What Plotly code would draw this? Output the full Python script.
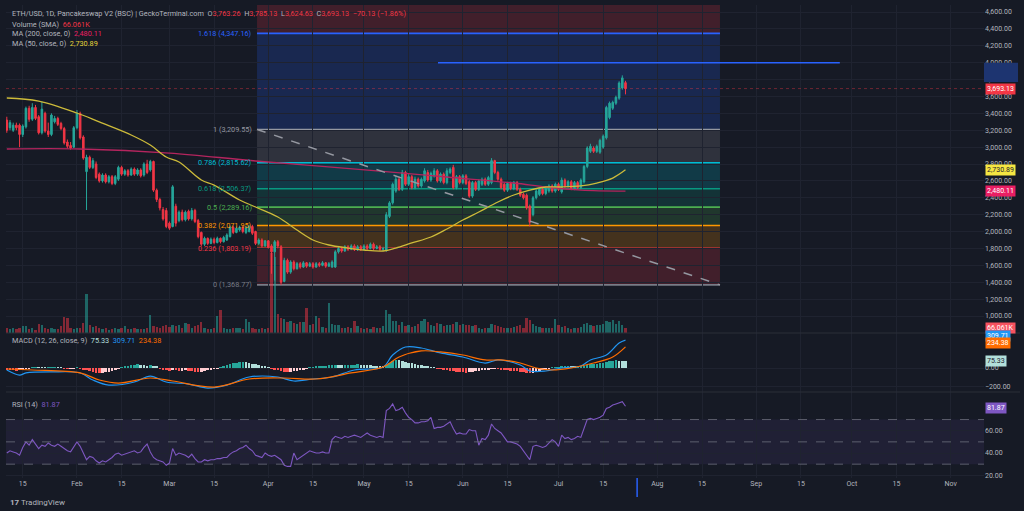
import pandas as pd
import plotly.graph_objects as go

# ---------------- DATA ----------------
opens = [3320, 3230, 3200, 3260, 3260, 3150, 3240, 3460, 3330, 3470,
         3360, 3170, 3400, 3190, 3150, 3300, 3340, 3280, 3220, 3060,
         3020, 3000, 3230, 3400, 3120, 2710, 2880, 2760, 2800, 2680,
         2600, 2670, 2590, 2650, 2570, 2620, 2760, 2680, 2720, 2670,
         2740, 2680, 2730, 2670, 2800, 2730, 2830, 2490, 2380, 2260,
         2250, 2100, 2060, 2300, 2130, 2230, 2140, 2240, 2150, 2250,
         2130, 1990, 1850, 1920, 1860, 1910, 1870, 1920, 1880, 1900,
         1940, 2050, 1990, 2020, 2050, 1990, 2000, 2060, 2000, 1860,
         1900, 1830, 1890, 1830, 1760, 1880, 1820, 1410, 1660, 1520,
         1640, 1560, 1620, 1580, 1630, 1590, 1620, 1580, 1620, 1600,
         1630, 1590, 1580, 1580, 1760, 1800, 1770, 1820, 1790, 1830,
         1790, 1820, 1790, 1830, 1800, 1850, 1800, 1820, 1790, 1780,
         2180, 2340, 2480, 2620, 2500, 2700, 2560, 2650, 2520, 2620,
         2540, 2600, 2700, 2610, 2660, 2720, 2600, 2680, 2580, 2700,
         2760, 2520, 2650, 2580, 2660, 2590, 2420, 2580, 2500, 2560,
         2620, 2560, 2580, 2840, 2700, 2620, 2560, 2490, 2570, 2510,
         2580, 2500, 2440, 2430, 2300, 2200, 2400, 2440, 2500, 2450,
         2480, 2540, 2480, 2560, 2470, 2610, 2540, 2590, 2510, 2580,
         2520, 2590, 2770, 2950, 2990, 2950, 2940, 3000, 3110, 3350,
         3460, 3520, 3580, 3700, 3763.26]
closes = [3200, 3290, 3260, 3230, 3150, 3250, 3460, 3330, 3470, 3340,
          3170, 3450, 3190, 3150, 3380, 3340, 3270, 3220, 3050, 3010,
          2990, 3230, 3400, 3110, 2870, 2880, 2760, 2840, 2640, 2600,
          2670, 2590, 2650, 2570, 2650, 2760, 2680, 2720, 2670, 2740,
          2680, 2730, 2660, 2800, 2700, 2830, 2490, 2380, 2280, 2150,
          2060, 2040, 2530, 2100, 2230, 2140, 2230, 2150, 2250, 2120,
          1940, 1850, 1920, 1860, 1910, 1870, 1920, 1880, 1930, 1960,
          2050, 1990, 2040, 2050, 2000, 2050, 2060, 1980, 1860, 1900,
          1830, 1890, 1810, 1760, 1880, 1830, 1400, 1660, 1520, 1640,
          1560, 1620, 1580, 1630, 1590, 1620, 1580, 1620, 1600, 1630,
          1590, 1620, 1640, 1760, 1800, 1770, 1820, 1790, 1830, 1790,
          1820, 1790, 1830, 1800, 1850, 1800, 1820, 1790, 1800, 2200,
          2340, 2560, 2620, 2500, 2700, 2560, 2650, 2520, 2620, 2540,
          2620, 2720, 2610, 2690, 2720, 2600, 2680, 2580, 2720, 2740,
          2520, 2650, 2580, 2660, 2570, 2420, 2580, 2500, 2600, 2620,
          2560, 2640, 2840, 2700, 2620, 2520, 2490, 2570, 2510, 2580,
          2500, 2430, 2400, 2280, 2110, 2400, 2480, 2500, 2450, 2510,
          2540, 2480, 2560, 2500, 2610, 2540, 2590, 2510, 2580, 2520,
          2610, 2770, 2990, 3010, 2950, 3010, 3080, 3130, 3470, 3520,
          3530, 3590, 3760, 3820, 3693.13]
highs = [3360, 3320, 3290, 3290, 3280, 3270, 3480, 3490, 3520, 3500,
         3380, 3540, 3420, 3290, 3400, 3370, 3360, 3300, 3240, 3090,
         3060, 3250, 3440, 3420, 3140, 2910, 2900, 2870, 2830, 2700,
         2690, 2690, 2670, 2670, 2670, 2780, 2780, 2740, 2740, 2760,
         2760, 2750, 2750, 2820, 2850, 2850, 2840, 2510, 2400, 2290,
         2280, 2120, 2550, 2330, 2250, 2260, 2250, 2260, 2280, 2270,
         2150, 2000, 1940, 1930, 1930, 1930, 1940, 1930, 1950, 1980,
         2070, 2070, 2060, 2070, 2070, 2070, 2080, 2080, 2010, 1920,
         1920, 1900, 1900, 1850, 1900, 1900, 1840, 1690, 1680, 1660,
         1660, 1640, 1640, 1650, 1640, 1640, 1640, 1640, 1640, 1650,
         1640, 1640, 1660, 1780, 1820, 1820, 1840, 1840, 1850, 1850,
         1840, 1840, 1850, 1850, 1870, 1870, 1840, 1840, 1820, 2230,
         2360, 2580, 2660, 2650, 2730, 2720, 2680, 2670, 2650, 2640,
         2640, 2750, 2730, 2710, 2750, 2740, 2700, 2700, 2750, 2760,
         2790, 2670, 2670, 2680, 2680, 2610, 2600, 2600, 2620, 2640,
         2640, 2660, 2870, 2850, 2720, 2640, 2580, 2590, 2590, 2600,
         2600, 2520, 2460, 2450, 2320, 2420, 2500, 2520, 2520, 2530,
         2560, 2560, 2580, 2580, 2640, 2630, 2610, 2610, 2600, 2600,
         2630, 2790, 3010, 3040, 3010, 3030, 3100, 3150, 3490, 3540,
         3550, 3610, 3780, 3850, 3785.13]
lows = [3170, 3200, 3180, 3200, 3000, 3120, 3220, 3300, 3310, 3320,
        3150, 3150, 3170, 3120, 3130, 3280, 3250, 3200, 3030, 2980,
        2970, 2990, 3210, 3090, 2850, 2255, 2740, 2740, 2620, 2580,
        2580, 2570, 2570, 2550, 2550, 2600, 2660, 2660, 2650, 2660,
        2660, 2660, 2640, 2650, 2680, 2710, 2470, 2350, 2250, 2130,
        2040, 2020, 2050, 2060, 2110, 2120, 2120, 2130, 2130, 2100,
        1920, 1830, 1830, 1840, 1850, 1850, 1860, 1860, 1870, 1890,
        1930, 1970, 1980, 2000, 1980, 1970, 1990, 1960, 1840, 1840,
        1810, 1820, 1800, 1500, 1420, 1800, 1369, 1400, 1500, 1500,
        1540, 1550, 1560, 1570, 1570, 1580, 1560, 1570, 1580, 1590,
        1570, 1580, 1570, 1570, 1740, 1750, 1760, 1770, 1780, 1770,
        1770, 1770, 1780, 1780, 1790, 1780, 1790, 1770, 1770, 1760,
        2160, 2320, 2460, 2480, 2480, 2540, 2540, 2500, 2500, 2520,
        2520, 2580, 2590, 2590, 2640, 2580, 2580, 2560, 2560, 2680,
        2500, 2500, 2560, 2560, 2550, 2400, 2400, 2480, 2480, 2540,
        2540, 2540, 2560, 2680, 2600, 2500, 2470, 2470, 2490, 2490,
        2480, 2410, 2380, 2260, 2060, 2180, 2380, 2420, 2430, 2430,
        2460, 2460, 2460, 2480, 2450, 2520, 2520, 2490, 2490, 2500,
        2500, 2570, 2750, 2930, 2930, 2930, 2920, 2980, 3090, 3330,
        3440, 3500, 3560, 3680, 3624.63]
volumes_k = [60, 50, 70, 55, 65, 90, 95, 50, 60, 45,
             120, 100, 70, 55, 60, 50, 55, 90, 210, 200,
             60, 55, 70, 65, 130, 510, 110, 80, 90, 70,
             50, 60, 45, 55, 70, 50, 60, 90, 55, 50,
             60, 50, 55, 50, 60, 235, 90, 80, 70, 95,
             100, 80, 110, 90, 105, 70, 130, 120, 60, 90,
             110, 150, 60, 55, 50, 60, 220, 310, 60, 50,
             55, 70, 65, 60, 55, 180, 150, 60, 55, 50,
             60, 55, 70, 1050, 1000, 250, 200, 180, 140, 160,
             130, 120, 150, 140, 330, 100, 120, 220, 200, 80,
             60, 390, 120, 110, 100, 70, 60, 80, 70, 160,
             90, 60, 50, 70, 55, 80, 60, 70, 90, 300,
             250, 160, 160, 110, 150, 90, 100, 80, 90, 120,
             160, 180, 150, 100, 90, 130, 120, 90, 110, 100,
             120, 140, 100, 120, 110, 100, 90, 100, 60, 50,
             70, 60, 120, 110, 90, 80, 70, 60, 70, 80,
             90, 100, 70, 200, 170, 120, 90, 80, 70, 60,
             70, 60, 180, 100, 80, 90, 60, 50, 60, 70,
             80, 120, 130, 110, 90, 100, 110, 120, 160, 150,
             170, 120, 160, 100, 66.061]
macd_hist = [-15, -20, -25, -28, -25, -20, -10, -5, 5, 8,
             6, 4, 2, 3, 5, 6, 4, 2, -3, -6,
             -5, -2, 2, -8, -15, -25, -35, -45, -55, -60,
             -55, -48, -40, -30, -20, -8, 5, 15, 25, 32,
             38, 40, 36, 30, 25, 28, 22, 12, -5, -15,
             -25, -30, -20, -25, -30, -28, -25, -30, -35, -40,
             -45, -40, -32, -25, -18, -10, -2, 8, 18, 30,
             42, 52, 58, 62, 66, 62, 55, 48, 40, 32,
             25, 15, 8, -5, -15, -25, -35, -42, -45, -40,
             -35, -28, -20, -12, -5, 2, 8, 12, 16, 20,
             25, 28, 30, 32, 30, 28, 30, 32, 35, 38,
             40, 38, 35, 30, 28, 25, 22, 18, 15, 35,
             60, 80, 90, 85, 78, 70, 60, 50, 42, 35,
             28, 20, 14, 8, 2, -5, -10, -18, -25, -30,
             -35, -40, -45, -48, -50, -45, -40, -35, -30, -25,
             -20, -12, -5, -2, -8, -15, -20, -25, -30, -35,
             -38, -42, -45, -50, -58, -52, -40, -30, -20, -12,
             -5, 2, 6, 10, 12, 14, 15, 14, 12, 12,
             15, 25, 35, 42, 45, 48, 52, 60, 70, 78,
             82, 85, 82, 78, 75.33]
rsi = [40, 42, 41, 40, 38, 45, 50, 47, 52, 48,
       44, 47, 46, 49, 47, 46, 48, 46, 44, 42,
       41, 46, 50, 46, 40, 34, 37, 36, 33, 31,
       33, 32, 34, 36, 39, 40, 38, 39, 40, 41,
       42, 40, 41, 45, 48, 41, 36, 34, 33, 32,
       29, 31, 44, 38, 40, 39, 38, 36, 39, 35,
       32, 32, 34, 33, 34, 34, 35, 35, 36, 36,
       39, 41, 42, 44, 45, 47, 44, 42, 38, 37,
       36, 40, 38, 37, 38, 36, 34, 29, 28, 28,
       40, 34, 36, 38, 40, 42, 41, 40, 40, 41,
       40, 40, 52, 55, 54, 53, 55, 54, 55, 56,
       55, 54, 56, 58, 56, 55, 54, 55, 54, 78,
       80, 84, 78, 79, 81, 76, 72, 70, 67, 67,
       68, 68, 69, 72, 62, 63, 63, 64, 66, 68,
       62, 57, 58, 57, 57, 61, 60, 60, 47, 53,
       52, 56, 66, 62, 60, 58, 54, 50, 50, 49,
       48, 46, 42, 37, 34, 46, 47, 46, 45, 46,
       49, 52, 50, 46, 56, 53, 54, 52, 53, 55,
       54, 62, 70, 71, 70, 71, 72, 74, 80, 81,
       83, 84, 85, 86, 81.87]

ma50_dates = ["2024-01-10", "2024-01-20", "2024-02-01", "2024-02-08", "2024-02-18", "2024-02-24",
              "2024-02-29", "2024-03-04", "2024-03-11", "2024-03-15", "2024-03-23", "2024-03-28",
              "2024-04-04", "2024-04-10", "2024-04-15", "2024-04-20", "2024-04-26", "2024-05-01",
              "2024-05-07", "2024-05-11", "2024-05-16", "2024-05-22", "2024-05-27", "2024-06-01",
              "2024-06-06", "2024-06-12", "2024-06-17", "2024-06-22", "2024-06-27", "2024-07-02",
              "2024-07-08", "2024-07-13", "2024-07-18", "2024-07-22"]
ma50_vals = [3582, 3546, 3404, 3298, 3144, 3025, 2883, 2824, 2611, 2551, 2374, 2291,
             2172, 2018, 1900, 1841, 1805, 1782, 1770, 1805, 1865, 1936, 2030, 2137,
             2232, 2350, 2433, 2492, 2528, 2528, 2540, 2575, 2634, 2730.89]
ma200_dates = ["2024-01-10", "2024-02-02", "2024-03-01", "2024-03-28", "2024-05-06", "2024-05-27",
               "2024-06-17", "2024-06-27", "2024-07-08", "2024-07-22"]
ma200_vals = [2978, 2978, 2930, 2836, 2717, 2646, 2575, 2528, 2492, 2480.11]

macd_dates = ["2024-01-10", "2024-01-14", "2024-01-16", "2024-01-24", "2024-02-02", "2024-02-06",
              "2024-02-11", "2024-02-19", "2024-02-24", "2024-02-29", "2024-03-07", "2024-03-13",
              "2024-03-19", "2024-03-26", "2024-04-04", "2024-04-09", "2024-04-15", "2024-04-21",
              "2024-04-28", "2024-05-07", "2024-05-10", "2024-05-14", "2024-05-19", "2024-05-25",
              "2024-06-01", "2024-06-08", "2024-06-12", "2024-06-19", "2024-06-22", "2024-06-27",
              "2024-07-02", "2024-07-08", "2024-07-11", "2024-07-16", "2024-07-20", "2024-07-22"]
macd_vals = [-22, -78, -55, -44, -55, -133, -189, -155, -89, -155, -178, -222,
             -189, -100, -100, -144, -122, -100, -22, 11, 144, 233, 222, 167,
             122, 55, 89, 33, -33, -33, 0, 22, 89, 144, 278, 309.71]
signal_dates = ["2024-01-10", "2024-01-18", "2024-02-02", "2024-02-08", "2024-02-14", "2024-02-24",
                "2024-03-02", "2024-03-15", "2024-03-26", "2024-04-06", "2024-04-16", "2024-04-27",
                "2024-05-07", "2024-05-12", "2024-05-19", "2024-05-25", "2024-06-01", "2024-06-08",
                "2024-06-13", "2024-06-19", "2024-06-24", "2024-06-29", "2024-07-05", "2024-07-12",
                "2024-07-18", "2024-07-22"]
signal_vals = [-11, -22, -55, -133, -167, -111, -144, -211, -122, -111, -122, -55,
               11, 122, 189, 178, 144, 89, 89, 55, 0, -22, 0, 55, 122, 234.38]

fib_ratios = [0, 0.236, 0.382, 0.5, 0.618, 0.786, 1, 1.618, 2.618]
fib_prices = [1368.77, 1803.19, 2071.95, 2289.16, 2506.37, 2815.62, 3209.55, 4347.16, 6187.93]
fib_colors = ["#787b86", "#f23645", "#ff9800", "#4caf50", "#089981", "#00bcd4", "#9598a1", "#2962ff", "#f23645"]
fib_start, fib_end = "2024-03-28 11:00", "2024-08-20 15:00"
hline_price, hline_start, hline_end = 4000, "2024-05-24 05:00", "2024-09-27 05:00"

price_ticks = [1000, 1200, 1400, 1600, 1800, 2000, 2200, 2400, 2600, 2800, 3000,
               3200, 3400, 3600, 3800, 4000, 4200, 4400, 4600]
macd_ticks = [-200, 0]
rsi_ticks = [20, 40, 60]
time_ticks = ["2024-01-15", "2024-02-01", "2024-02-15", "2024-03-01", "2024-03-15", "2024-04-01",
              "2024-04-15", "2024-05-01", "2024-05-15", "2024-06-01", "2024-06-15", "2024-07-01",
              "2024-07-15", "2024-08-01", "2024-08-15", "2024-09-01", "2024-09-15", "2024-10-01",
              "2024-10-15", "2024-11-01"]
time_labels = ["15", "Feb", "15", "Mar", "15", "Apr", "15", "May", "15", "Jun", "15", "Jul",
               "15", "Aug", "15", "Sep", "15", "Oct", "15", "Nov"]

n = len(closes)
assert all(len(a) == n for a in (opens, highs, lows, volumes_k, macd_hist, rsi)), \
    [len(a) for a in (opens, highs, lows, closes, volumes_k, macd_hist, rsi)]
dates = pd.date_range("2024-01-10", periods=n, freq="D")

# ---------------- STYLE / LAYOUT HELPERS ----------------
W, H = 1024, 511
ML, MR, MT, MB = 6, 40, 5, 33
BG = "#161a25"
TXT = "#b2b5be"
GRID = "#1f2330"
UP, DOWN = "#26a69a", "#f23645"
FONT = "Roboto"


def px(x):
    return (x - ML) / (W - ML - MR)


def py(y):
    return (H - MB - y) / (H - MT - MB)


main_dom = [py(333), 1]
macd_dom = [py(392), py(333)]
rsi_dom = [0, py(392)]

fig = go.Figure()

# Volume (overlay on main pane)
vcols = ["rgba(38,166,154,0.55)" if c >= o else "rgba(242,54,69,0.5)" for o, c in zip(opens, closes)]
fig.add_trace(go.Bar(x=dates, y=volumes_k, marker=dict(color=vcols, line=dict(width=0)),
                     width=86400000 * 0.72, xaxis="x", yaxis="y4"))

# Candles
fig.add_trace(go.Candlestick(
    x=dates, open=opens, high=highs, low=lows, close=closes,
    increasing=dict(line=dict(color=UP, width=1), fillcolor=UP),
    decreasing=dict(line=dict(color=DOWN, width=1), fillcolor=DOWN),
    whiskerwidth=0, xaxis="x", yaxis="y"))

# Moving averages
fig.add_trace(go.Scatter(x=ma200_dates, y=ma200_vals, mode="lines", line=dict(color="#b4255e", width=1.3, shape="spline"),
                         xaxis="x", yaxis="y"))
fig.add_trace(go.Scatter(x=ma50_dates, y=ma50_vals, mode="lines", line=dict(color="#cdbb3a", width=1.3, shape="spline"),
                         xaxis="x", yaxis="y"))

# MACD
hcols = []
prev = None
for v in macd_hist:
    if v >= 0:
        hcols.append("#26a69a" if prev is None or v >= prev else "#b2dfdb")
    else:
        hcols.append("#ff5252" if prev is None or v <= prev else "#ffcdd2")
    prev = v
fig.add_trace(go.Bar(x=dates, y=macd_hist, marker=dict(color=hcols, line=dict(width=0)),
                     width=86400000 * 0.8, xaxis="x", yaxis="y2"))
fig.add_trace(go.Scatter(x=macd_dates, y=macd_vals, mode="lines", line=dict(color="#2196f3", width=1.2, shape="spline"),
                         xaxis="x", yaxis="y2"))
fig.add_trace(go.Scatter(x=signal_dates, y=signal_vals, mode="lines", line=dict(color="#ff6d00", width=1.2, shape="spline"),
                         xaxis="x", yaxis="y2"))

# RSI
fig.add_trace(go.Scatter(x=dates, y=rsi, mode="lines", line=dict(color="#7e57c2", width=1.1),
                         xaxis="x", yaxis="y3"))

shapes = []
# Fibonacci bands + lines
for k in range(len(fib_prices) - 1):
    c = fib_colors[k + 1]
    r, g, b = int(c[1:3], 16), int(c[3:5], 16), int(c[5:7], 16)
    shapes.append(dict(type="rect", xref="x", yref="y", x0=fib_start, x1=fib_end,
                       y0=fib_prices[k], y1=fib_prices[k + 1], line=dict(width=0),
                       fillcolor=f"rgba({r},{g},{b},0.2)", layer="below"))
annotations = []
for ratio, price, col in zip(fib_ratios[:-1], fib_prices[:-1], fib_colors[:-1]):
    shapes.append(dict(type="line", xref="x", yref="y", x0=fib_start, x1=fib_end, y0=price, y1=price,
                       line=dict(color=col, width=1.6), layer="below"))
    annotations.append(dict(x=fib_start, y=price, xref="x", yref="y", xanchor="right", yanchor="middle",
                            xshift=-3, showarrow=False, text=f"{ratio:g} ({price:,.2f})",
                            font=dict(family=FONT, size=7.3, color=col)))
# diagonal trend of fib tool
shapes.append(dict(type="line", xref="x", yref="y", x0=fib_start, x1=fib_end, y0=fib_prices[6], y1=fib_prices[0],
                   line=dict(color="#9598a1", width=1.5, dash="dash"), layer="above"))
# horizontal line at 4000
shapes.append(dict(type="line", xref="x", yref="y", x0=hline_start, x1=hline_end, y0=hline_price, y1=hline_price,
                   line=dict(color="#2962ff", width=1.5)))
# last price line
shapes.append(dict(type="line", xref="paper", yref="y", x0=0, x1=1, y0=closes[-1], y1=closes[-1],
                   line=dict(color="rgba(242,54,69,0.4)", width=1, dash="dot")))
# RSI band + levels
shapes.append(dict(type="rect", xref="paper", yref="y3", x0=0, x1=1, y0=30, y1=70,
                   fillcolor="rgba(126,87,194,0.1)", line=dict(width=0), layer="below"))
for lv in (70, 50, 30):
    shapes.append(dict(type="line", xref="paper", yref="y3", x0=0, x1=1, y0=lv, y1=lv,
                       line=dict(color="rgba(120,123,134,0.7)", width=1, dash="dash")))
# pane separators
for yy in (333, 392):
    shapes.append(dict(type="line", xref="paper", yref="paper", x0=0, x1=px(1020), y0=py(yy), y1=py(yy),
                       line=dict(color="#2a2e39", width=1)))
# highlighted price range on axis for the horizontal line
shapes.append(dict(type="rect", xref="paper", yref="y", x0=1, x1=px(1018), y0=3770, y1=hline_price,
                   fillcolor="#1d3470", line=dict(width=0)))
# time-axis marker
shapes.append(dict(type="rect", xref="x", yref="paper", x0="2024-07-25 10:00", x1="2024-07-25 21:00",
                   y0=py(497), y1=py(478), fillcolor="#2962ff", line=dict(width=0)))


def label(x, y, text, size=7.3):
    annotations.append(dict(x=px(x), y=py(y), xref="paper", yref="paper", text=text, showarrow=False,
                            xanchor="left", yanchor="middle", font=dict(family=FONT, size=size, color=TXT)))


def span(col, t):
    return f'<span style="color:{col}">{t}</span>'


RED = "#f23645"
ch = closes[-1] - opens[-1]
label(10, 14, "ETH/USD, 1D, Pancakeswap V2 (BSC) | GeckoTerminal.com  "
      f"O{span(RED, f'{opens[-1]:,.2f}')}  H{span(RED, f'{highs[-1]:,.2f}')}  "
      f"L{span(RED, f'{lows[-1]:,.2f}')}  C{span(RED, f'{closes[-1]:,.2f}')}  "
      f"{span(RED, f'−{abs(ch):,.2f} (−{abs(ch) / opens[-1] * 100:.2f}%)')}")
label(10, 24, f"Volume (SMA)  {span(RED, f'{volumes_k[-1]:.3f}K')}")
label(10, 33.5, f"MA (200, close, 0)  {span('#e91e63', f'{ma200_vals[-1]:,.2f}')}")
label(10, 43, f"MA (50, close, 0)  {span('#e5d43a', f'{ma50_vals[-1]:,.2f}')}")
label(10, 340, f"MACD (12, 26, close, 9)  {span('#b2dfdb', f'{macd_hist[-1]:.2f}')}  "
      f"{span('#2196f3', f'{macd_vals[-1]:.2f}')}  {span('#ff6d00', f'{signal_vals[-1]:.2f}')}")
label(10, 404, f"RSI (14)  {span('#7e57c2', f'{rsi[-1]:.2f}')}")
label(8, 503, "<b>17</b> TradingView", size=8)


def tag(yref, y, text, bg, fg, yshift=0):
    annotations.append(dict(x=1, y=y, xref="paper", yref=yref, xanchor="left", yanchor="middle", xshift=1,
                            yshift=yshift, showarrow=False, text=text, bgcolor=bg, borderpad=1,
                            font=dict(family=FONT, size=7, color=fg)))


tag("y", closes[-1], f"{closes[-1]:,.2f}", "#f23645", "#ffffff")
tag("y", ma50_vals[-1], f"{ma50_vals[-1]:,.2f}", "#f5e642", "#1e222d")
tag("y", ma200_vals[-1], f"{ma200_vals[-1]:,.2f}", "#e91e63", "#ffffff")
tag("y4", volumes_k[-1], f"{volumes_k[-1]:.3f}K", "#f7525f", "#ffffff")
tag("y2", macd_vals[-1], f"{macd_vals[-1]:.2f}", "#2196f3", "#ffffff", yshift=4)
tag("y2", signal_vals[-1], f"{signal_vals[-1]:.2f}", "#ff6d00", "#ffffff", yshift=4)
tag("y2", macd_hist[-1], f"{macd_hist[-1]:.2f}", "#b2dfdb", "#1e222d")
tag("y3", rsi[-1], f"{rsi[-1]:.2f}", "#7e57c2", "#ffffff", yshift=-2)

axis_font = dict(family=FONT, size=7, color=TXT)
yax = dict(side="right", showgrid=True, gridcolor=GRID, zeroline=False, tickfont=axis_font,
           ticks="", showline=False, anchor="x", fixedrange=True)

fig.update_layout(
    width=W, height=H, margin=dict(l=ML, r=MR, t=MT, b=MB),
    paper_bgcolor=BG, plot_bgcolor=BG, showlegend=False, hovermode=False,
    bargap=0, font=dict(family=FONT, size=7, color=TXT),
    xaxis=dict(type="date", domain=[0, 1], anchor="y3",
               range=["2024-01-09 18:00", "2024-11-11 10:00"],
               tickvals=time_ticks, ticktext=time_labels, tickfont=axis_font,
               showgrid=True, gridcolor=GRID, zeroline=False, ticks="", showline=False,
               rangeslider=dict(visible=False)),
    yaxis=dict(domain=main_dom, range=[799, 4683], tickvals=price_ticks, tickformat=",.2f", **yax),
    yaxis2=dict(domain=macd_dom, range=[-266, 388], tickvals=macd_ticks, tickformat=",.2f", **yax),
    yaxis3=dict(domain=rsi_dom, range=[17.6, 94.7], tickvals=rsi_ticks, tickformat=".2f", **yax),
    yaxis4=dict(overlaying="y", range=[0, 4330], visible=False, anchor="x", showgrid=False),
    shapes=shapes, annotations=annotations,
)

fig.write_html("out.html", config={"displayModeBar": False},
               post_script="document.body.style.margin='0';document.body.style.background='%s';" % BG)
